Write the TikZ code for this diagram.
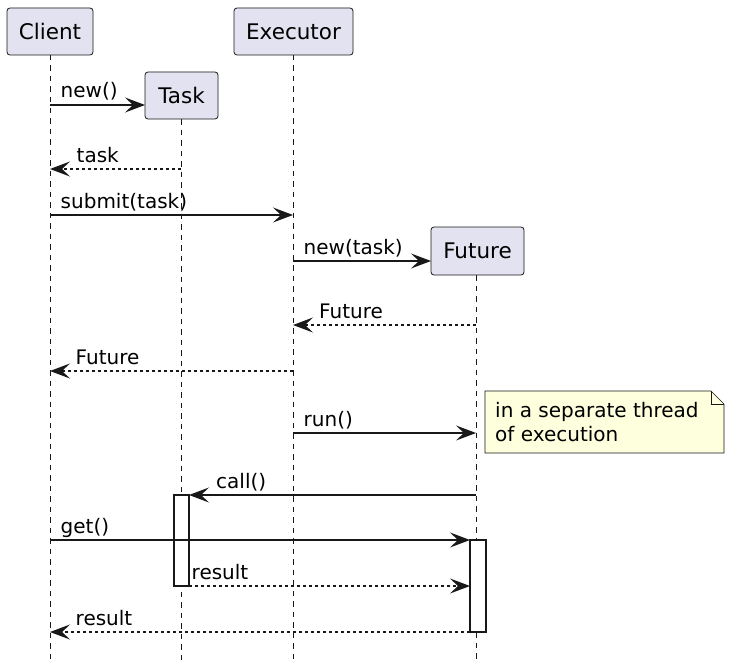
\documentclass[tikz,border=0pt]{standalone}
\usepackage{fontspec}
\setmainfont{DejaVu Sans}
\usetikzlibrary{arrows.meta}
\definecolor{partfill}{HTML}{E2E2F0}
\definecolor{linec}{HTML}{181818}
\definecolor{notefill}{HTML}{FEFFDD}
\begin{document}
\begin{tikzpicture}[x=1pt,y=-1pt,
  part/.style={draw=linec, fill=partfill, rounded corners=3pt, line width=0.8pt,
    font=\fontsize{21.5}{25}\selectfont, inner sep=0pt},
  mtext/.style={font=\fontsize{20}{24}\selectfont, anchor=base west, inner sep=0pt},
  lifeline/.style={draw=linec, line width=0.7pt, dash pattern=on 5.5pt off 5pt},
  msg/.style={draw=linec, line width=1.3pt, -{Stealth[length=20pt,width=15pt,inset=8pt]}},
  ret/.style={msg, dash pattern=on 3pt off 3pt},
  act/.style={draw=linec, fill=white, line width=1.2pt},
  notebox/.style={draw=linec, fill=notefill, line width=0.7pt},
]
\useasboundingbox (0,0) rectangle (734,669);
\fill[white] (0,0) rectangle (734,669);

% lifelines
\coordinate (clTop) at (50,55);   \coordinate (clBot) at (50,660);
\coordinate (tkTop) at (181,119); \coordinate (tkBot) at (181,660);
\coordinate (exTop) at (293,55);  \coordinate (exBot) at (293,660);
\coordinate (fuTop) at (476,275); \coordinate (fuBot) at (476,660);
\draw[lifeline] (clTop) -- (clBot);
\draw[lifeline] (tkTop) -- (tkBot);
\draw[lifeline] (exTop) -- (exBot);
\draw[lifeline] (fuTop) -- (fuBot);

% participants
\node[part, minimum width=86pt, minimum height=47pt] (client) at (50,31.5) {Client};
\node[part, minimum width=119pt, minimum height=47pt] (executor) at (293.5,31.5) {Executor};
\node[part, minimum width=73pt, minimum height=47pt] (task) at (181.5,95.5) {Task};
\node[part, minimum width=93pt, minimum height=48pt] (future) at (477.5,251) {Future};

% activations
\node[act, minimum width=15pt, minimum height=91pt, inner sep=0pt] (tkAct) at (181.5,540.5) {};
\node[act, minimum width=16pt, minimum height=92pt, inner sep=0pt] (fuAct) at (478,586) {};

% message endpoints
\coordinate (m1a) at (50,105);  \coordinate (m1b) at (145,105);
\coordinate (m2a) at (181,169); \coordinate (m2b) at (50,169);
\coordinate (m3a) at (50,215);  \coordinate (m3b) at (293,215);
\coordinate (m4a) at (293,261); \coordinate (m4b) at (431,261);
\coordinate (m5a) at (476,325); \coordinate (m5b) at (293,325);
\coordinate (m6a) at (293,371); \coordinate (m6b) at (50,371);
\coordinate (m7a) at (293,433); \coordinate (m7b) at (476,433);
\coordinate (m8a) at (476,495); \coordinate (m8b) at (189,495);
\coordinate (m9a) at (50,540);  \coordinate (m9b) at (470,540);
\coordinate (m10a) at (189,586); \coordinate (m10b) at (470,586);
\coordinate (m11a) at (470,632); \coordinate (m11b) at (50,632);

\draw[msg] (m1a) -- (m1b);
\draw[ret] (m2a) -- (m2b);
\draw[msg] (m3a) -- (m3b);
\draw[msg] (m4a) -- (m4b);
\draw[ret] (m5a) -- (m5b);
\draw[ret] (m6a) -- (m6b);
\draw[msg] (m7a) -- (m7b);
\draw[msg] (m8a) -- (m8b);
\draw[msg] (m9a) -- (m9b);
\draw[ret] (m10a) -- (m10b);
\draw[ret] (m11a) -- (m11b);

% labels
\node[mtext] (l1) at (60.5,98) {new()};
\node[mtext] (l2) at (76.5,162) {task};
\node[mtext] (l3) at (60.5,208) {submit(task)};
\node[mtext] (l4) at (303.5,254) {new(task)};
\node[mtext] (l5) at (319,318) {Future};
\node[mtext] (l6) at (75.5,364) {Future};
\node[mtext] (l7) at (303.5,426) {run()};
\node[mtext] (l8) at (216,488) {call()};
\node[mtext] (l9) at (60.5,533) {get()};
\node[mtext] (l10) at (191.5,579) {result};
\node[mtext] (l11) at (75.5,625) {result};

% note
\coordinate (n1) at (485,391); \coordinate (n2) at (711,391);
\coordinate (n3) at (724,404); \coordinate (n4) at (724,453);
\coordinate (n5) at (485,453); \coordinate (n6) at (711,404);
\draw[notebox] (n1) -- (n2) -- (n3) -- (n4) -- (n5) -- cycle;
\draw[notebox, fill=none] (n2) -- (n6) -- (n3);
\node[mtext] (note1) at (495,417) {in a separate thread};
\node[mtext] (note2) at (495,441) {of execution};
\end{tikzpicture}
\end{document}
